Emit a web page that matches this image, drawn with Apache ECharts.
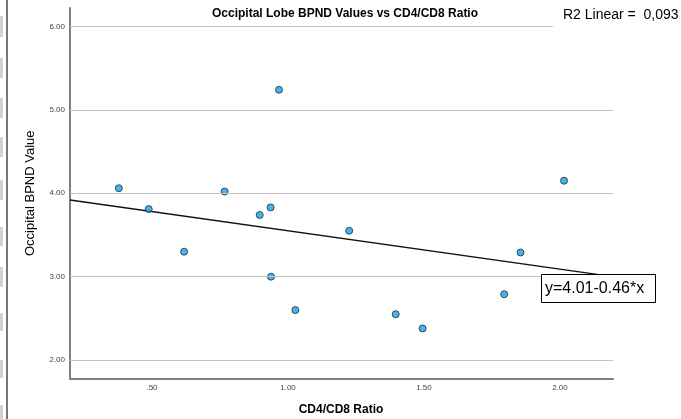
<!DOCTYPE html>
<html>
<head>
<meta charset="utf-8">
<script src="https://cdn.jsdelivr.net/npm/echarts@6/dist/echarts.min.js"></script>
<style>html,body{margin:0;padding:0;background:#fff;}#c{width:681px;height:419px;}</style>
</head>
<body>
<div id="c"></div>
<script>
// Data
var ratioX = [0.378, 0.488, 0.618, 0.767, 0.896, 0.936, 0.967, 0.9375, 1.027, 1.225, 1.396, 1.495, 1.795, 1.855, 2.015];
var bpndY  = [4.06, 3.81, 3.30, 4.02, 3.74, 3.83, 5.24, 3.00, 2.60, 3.55, 2.55, 2.38, 2.79, 3.29, 4.15];
var fitX = [0.1985, 2.195];
var fitY = [3.919, 3.000];
var xTickValues = [0.5, 1.0, 1.5, 2.0];
var xTickLabels = ['.50', '1.00', '1.50', '2.00'];
var yTickValues = [2, 3, 4, 5, 6];
var yTickLabels = ['2.00', '3.00', '4.00', '5.00', '6.00'];
var titleText = 'Occipital Lobe BPND Values vs CD4/CD8 Ratio';
var r2Text = 'R2 Linear =  0,093';
var eqText = 'y=4.01-0.46*x';
var xName = 'CD4/CD8 Ratio';
var yName = 'Occipital BPND Value';

var points = ratioX.map(function (x, i) { return [x, bpndY[i]]; });
var fit = fitX.map(function (x, i) { return [x, fitY[i]]; });

var FONT = '"Liberation Sans", Arial, sans-serif';
var chart = echarts.init(document.getElementById('c'), null, {renderer: 'canvas'});

var leftBlocks = [[16,21],[58,20],[98,20],[137,20],[180,20],[227,19],[267,20],[313,18],[360,18],[405,14]];
var graphics = [
  {type: 'line', shape: {x1: 7, y1: 0, x2: 7, y2: 419}, style: {stroke: '#777', lineWidth: 2}, z: 100}
];
leftBlocks.forEach(function (b) {
  graphics.push({type: 'rect', shape: {x: 0, y: b[0], width: 3, height: b[1]}, style: {fill: '#d2d2d2'}, z: 100});
});
graphics.push(
  {type: 'text', x: 345, y: 13.5, z: 100, style: {text: titleText, font: 'bold 12px ' + FONT, fill: '#000', textAlign: 'center', textVerticalAlign: 'middle'}},
  {type: 'rect', shape: {x: 553, y: 3, width: 128, height: 26}, style: {fill: '#fff'}, z: 99},
  {type: 'text', x: 563, y: 15, z: 100, style: {text: r2Text, font: '14px ' + FONT, fill: '#000', textAlign: 'left', textVerticalAlign: 'middle'}},
  {type: 'rect', shape: {x: 541.5, y: 274.5, width: 114, height: 28}, style: {fill: '#fff', stroke: '#000', lineWidth: 1}, z: 100},
  {type: 'text', x: 545, y: 289, z: 101, style: {text: eqText, font: '16px ' + FONT, fill: '#000', textAlign: 'left', textVerticalAlign: 'middle'}},
  {type: 'text', x: 341, y: 410, z: 100, style: {text: xName, font: 'bold 12px ' + FONT, fill: '#000', textAlign: 'center', textVerticalAlign: 'middle'}}
);

chart.setOption({
  animation: false,
  backgroundColor: '#fff',
  grid: {left: 70, right: 68, top: 8, bottom: 40.5, containLabel: false},
  xAxis: {
    type: 'value', min: 0.1985, max: 2.195,
    axisLine: {show: true, onZero: false, lineStyle: {color: '#808080', width: 2}},
    axisTick: {show: false},
    splitLine: {show: false},
    axisLabel: {
      customValues: xTickValues,
      formatter: function (v) { var i = xTickValues.indexOf(v); return i >= 0 ? xTickLabels[i] : ''; },
      fontSize: 8, color: '#444', fontFamily: FONT, margin: 5
    }
  },
  yAxis: {
    type: 'value', min: 1.78, max: 6.22,
    name: yName, nameLocation: 'middle', nameGap: 33,
    nameTextStyle: {fontSize: 13, color: '#000', fontFamily: FONT},
    axisLine: {show: true, onZero: false, lineStyle: {color: '#808080', width: 2}},
    axisTick: {show: false},
    splitLine: {show: false},
    axisLabel: {
      customValues: yTickValues,
      formatter: function (v) { var i = yTickValues.indexOf(v); return i >= 0 ? yTickLabels[i] : ''; },
      fontSize: 8, color: '#444', fontFamily: FONT, margin: 5
    }
  },
  series: [
    {
      type: 'line', data: fit, showSymbol: false, symbol: 'none',
      lineStyle: {color: '#111', width: 1.3}, z: 3,
      markLine: {
        silent: true, symbol: 'none', label: {show: false},
        lineStyle: {color: '#c4c4c4', width: 1.2, type: 'solid'},
        data: yTickValues.map(function (v) { return {yAxis: v}; })
      }
    },
    {
      type: 'scatter', data: points, symbol: 'circle', symbolSize: 7,
      itemStyle: {color: '#1e9ee8', borderColor: '#1b2a3a', borderWidth: 1}, z: 4
    }
  ],
  graphic: graphics
});
</script>
</body>
</html>
